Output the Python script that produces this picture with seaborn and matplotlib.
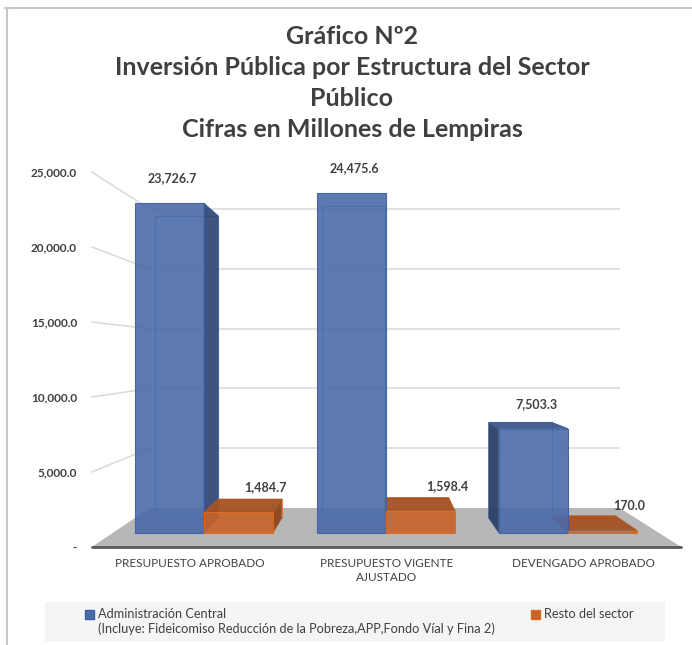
import matplotlib
matplotlib.use("Agg")
import pandas as pd
import matplotlib.pyplot as plt
import seaborn as sns
from matplotlib.patches import Polygon, Rectangle, Patch
from matplotlib.lines import Line2D
from matplotlib.colors import to_rgb
from matplotlib.legend_handler import HandlerPatch

# data (millones de lempiras)
categorias = ["PRESUPUESTO APROBADO", "PRESUPUESTO VIGENTE\nAJUSTADO", "DEVENGADO APROBADO"]
admin_central = [23726.7, 24475.6, 7503.3]
resto_sector = [1484.7, 1598.4, 170.0]
series = [
    "Administración Central\n(Incluye: Fideicomiso Reducción de la Pobreza,APP,Fondo Víal y Fina 2)",
    "Resto del sector",
]
y_ticks = [0, 5000, 10000, 15000, 20000, 25000]
titulo = ("Gráfico Nº2\nInversión Pública por Estructura del Sector\n"
          "Público\nCifras en Millones de Lempiras")

df = pd.DataFrame({
    "Etapa": categorias * 2,
    "Monto": admin_central + resto_sector,
    "Serie": [series[0]] * len(categorias) + [series[1]] * len(categorias),
})

BLUE, ORANGE = "#4a6aa8", "#c8632a"
TXT = "#404040"
W, H = 692, 645

sns.set_theme(style="white")
plt.rcParams["font.family"] = ["Lato", "DejaVu Sans"]

fig = plt.figure(figsize=(W / 100, H / 100), dpi=100)

# fake 3D: every depth gets its own full-figure axes, scaled about a vanishing point
VX, VY = 378, 355          # vanishing point (px from top-left)
X0, DX = 190, 196.5        # front plane: x px of category 0, px per category
Y0, DY = 547, 0.015        # front plane: y px of value 0, px per unit
D_NEAR, D_FRONT, D_BACK, D_WALL = 1.0, 0.927, 0.849, 0.797


def layer(depth, z):
    ax = fig.add_axes([0, 0, 1, 1], zorder=z)
    ax.set_axis_off()
    ax.patch.set_alpha(0)
    ax.depth = depth
    return ax


def fit(ax):
    d = ax.depth
    xv = lambda px: (VX + (px - VX) / d - X0) / DX
    yv = lambda py: (Y0 - (VY + (py - VY) / d)) / DY
    ax.set_xlim(xv(0), xv(W))
    ax.set_ylim(yv(H), yv(0))


def move(pts, src, dst):
    return dst.transData.inverted().transform(src.transData.transform(pts))


def shade(c, k):
    r, g, b = to_rgb(c)
    return (r * k, g * k, b * k)


near = layer(D_NEAR, 1)
wall = layer(D_WALL, 2)
back = layer(D_BACK, 3)
front = layer(D_FRONT, 4)

pal = {series[0]: BLUE, series[1]: ORANGE}
for ax in (back, front):
    sns.barplot(data=df, x="Etapa", y="Monto", hue="Serie", palette=pal,
                width=0.76, saturation=1, legend=False, ax=ax)
for ax in (near, wall, back, front):
    fit(ax)

# back wall gridlines and left wall lines
n = len(categorias)
wall.hlines(y_ticks[1:], -0.5, n - 0.5, color="#d9d9d9", lw=1.1, zorder=1)
for v in y_ticks[1:]:
    p = move([(-0.5, v)], near, wall)[0]
    wall.add_line(Line2D([p[0], -0.5], [p[1], v], color="#d9d9d9", lw=1.1, zorder=1))

# floor
fl = move([(-0.5, 0), (n - 0.5, 0)], near, wall)
wall.add_patch(Polygon([fl[0], fl[1], (n - 0.5, 0), (-0.5, 0)],
                       closed=True, fc="#b7b7b7", ec="none", zorder=2))
wall.add_line(Line2D(fl[:, 0], fl[:, 1], color="#595959", lw=2, zorder=3))

# bars: back faces as outlines, side/top faces, then front faces
colors = [BLUE] * n + [ORANGE] * n
for pf, pb, c in zip(front.patches, back.patches, colors):
    pb.set_facecolor("none")
    pb.set_edgecolor("#6b8ccc" if c == BLUE else "#e8823a")
    pb.set_linewidth(0.8)
    x0, y0 = pf.get_x(), pf.get_y()
    x1, y1 = x0 + pf.get_width(), y0 + pf.get_height()
    bx0, by0 = pb.get_x(), pb.get_y()
    b = move([(bx0, by0), (bx0 + pb.get_width(), by0 + pb.get_height())], back, front)
    (u0, w0), (u1, w1) = b
    faces = []
    if u1 > x1:
        faces.append(([(x1, y0), (u1, w0), (u1, w1), (x1, y1)], 0.7))
    if u0 < x0:
        faces.append(([(x0, y0), (u0, w0), (u0, w1), (x0, y1)], 0.6))
    if w1 > y1:
        faces.append(([(x0, y1), (x1, y1), (u1, w1), (u0, w1)], 0.82))
    for pts, k in faces:
        front.add_patch(Polygon(pts, closed=True, fc=shade(c, k),
                                ec=shade(c, 0.9), lw=0.6, alpha=0.95, zorder=0.5))
    pf.set_alpha(0.9)
    pf.set_edgecolor("#3c5ea6" if c == BLUE else "#e06a1a")
    pf.set_linewidth(0.8)
    dx = 3 if c == BLUE else 27
    front.annotate(f"{pf.get_height():,.1f}", ((x0 + x1) / 2, y1),
                   xytext=(dx, 25), textcoords="offset pixels",
                   ha="center", va="center", fontsize=9, fontweight="bold", color=TXT)

# axis labels on a plain axes aligned with the front plane
ax_t = fig.add_axes([84 / W, (H - Y0) / H, (W - 84) / W, (Y0 - 150) / H], zorder=0)
ax_t.patch.set_alpha(0)
ax_t.set_xlim((84 - X0) / DX, (W - X0) / DX)
ax_t.set_ylim(0, (Y0 - 150) / DY)
ax_t.set_yticks(y_ticks)
ax_t.set_yticklabels(["-" if v == 0 else f"{v:,.1f}" for v in y_ticks],
                     fontsize=8.5, fontweight="bold", color=TXT)
ax_t.set_xticks(range(n))
ax_t.set_xticklabels(categorias, fontsize=8.5, color=TXT, linespacing=1.35)
ax_t.tick_params(axis="y", length=0, pad=5)
ax_t.tick_params(axis="x", length=0, pad=8)
sns.despine(ax=ax_t, left=True, bottom=True)

# outer frame and legend box
cv = fig.add_axes([0, 0, 1, 1], zorder=-1)
cv.set_axis_off()
cv.set_xlim(0, W)
cv.set_ylim(H, 0)
cv.add_line(Line2D([5, W], [8, 8], color="#c8c8c8", lw=1.5))
cv.add_line(Line2D([7, 7], [8, H], color="#c8c8c8", lw=1.5))
cv.add_patch(Rectangle((45, 602), 620, 40, fc="#f5f5f5", ec="none"))


def top_square(legend, orig_handle, xdescent, ydescent, width, height, fontsize):
    # keep the square level with the first text line
    return Rectangle((-xdescent, -ydescent + 0.6 * fontsize), width, height)


handles = [Patch(fc=BLUE, ec="#3c5ea6"), Patch(fc=ORANGE, ec="#e06a1a")]
labels = [series[0], series[1] + "\n"]
fig.legend(handles, labels, loc="upper left", bbox_to_anchor=(80 / W, 1 - 603 / H),
           ncol=2, frameon=False, fontsize=9.2, handlelength=0.7, handleheight=0.7,
           handletextpad=0.3, columnspacing=2.85, labelcolor=TXT, borderaxespad=0,
           handler_map={Patch: HandlerPatch(patch_func=top_square)})

fig.text(352 / W, 1 - 25 / H, titulo, ha="center", va="top", fontsize=18,
         fontweight="bold", color=TXT, linespacing=1.42)

fig.savefig("out.png", dpi=100)
